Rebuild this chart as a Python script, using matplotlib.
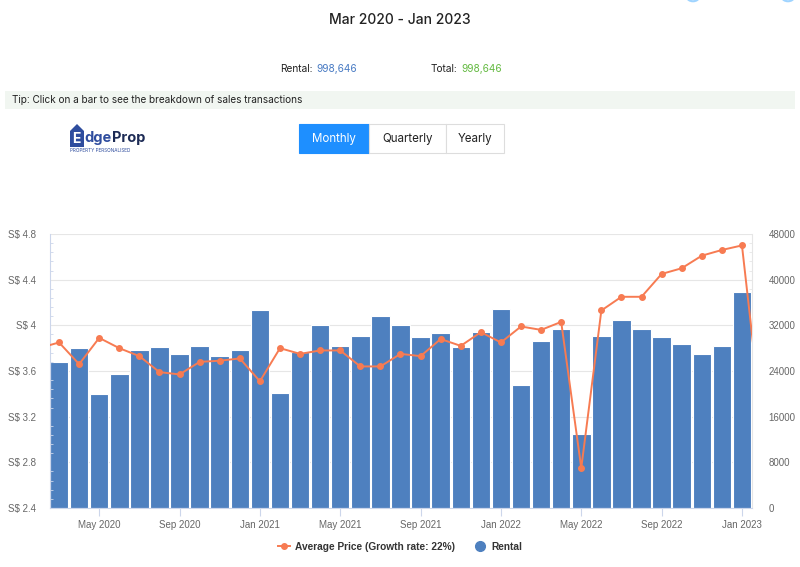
import numpy as np
import pandas as pd
import matplotlib.pyplot as plt
from matplotlib.patches import Rectangle, Polygon, Circle
from matplotlib.lines import Line2D

# monthly rental volume (right axis), Mar 2020 .. Jan 2023
rental = [25600, 28000, 20000, 23400, 27700, 28200, 26900, 28300, 26700, 27700,
          34600, 20200, 27300, 32000, 28300, 30100, 33700, 32100, 29900, 30600,
          28200, 30800, 34900, 21600, 29300, 31300, 12900, 30100, 32900, 31300,
          29900, 28700, 26900, 28400, 37800]

# average price psf (left axis), Feb 2020 .. Feb 2023 (first/last fall outside the plot)
avg_price = [3.80,
             3.85, 3.66, 3.89, 3.80, 3.73, 3.59, 3.57, 3.68, 3.69, 3.71,
             3.51, 3.80, 3.75, 3.78, 3.78, 3.64, 3.64, 3.75, 3.73, 3.88,
             3.82, 3.94, 3.85, 3.99, 3.96, 4.03, 2.75, 4.13, 4.25, 4.25,
             4.45, 4.50, 4.61, 4.66, 4.70,
             3.14]

months = pd.date_range('2020-03-01', '2023-01-01', freq='MS')
tick_labels = ['May 2020', 'Sep 2020', 'Jan 2021', 'May 2021', 'Sep 2021',
               'Jan 2022', 'May 2022', 'Sep 2022', 'Jan 2023']
left_ticks = [2.4, 2.8, 3.2, 3.6, 4.0, 4.4, 4.8]
left_labels = ['S$ 2.4', 'S$ 2.8', 'S$ 3.2', 'S$ 3.6', 'S$ 4', 'S$ 4.4', 'S$ 4.8']
right_ticks = [0, 8000, 16000, 24000, 32000, 40000, 48000]

BLUE = '#4e80bf'
ORANGE = '#f77b52'
GRID = '#e6e6e6'
AXC = '#ccd6eb'
LBL = '#666666'

W, H = 800, 567
def fx(x): return x / W
def fy(y): return 1 - y / H

plt.rcParams['font.family'] = ['Liberation Sans', 'DejaVu Sans']
fig = plt.figure(figsize=(8, 5.67), dpi=100)
hdr = ['Inter', 'DejaVu Sans']

# ---- header ----
fig.text(0.5, fy(20), 'Mar 2020 - Jan 2023', ha='center', va='center',
         fontsize=10, color='#222222', family=hdr, fontweight='medium')
fig.text(fx(280), fy(69), 'Rental:', ha='left', va='center', fontsize=7.3, color='#222222', family=hdr)
fig.text(fx(316), fy(69), '998,646', ha='left', va='center', fontsize=7.3, color='#4a7cc4', family=hdr)
fig.text(fx(431), fy(69), 'Total:', ha='left', va='center', fontsize=7.3, color='#222222', family=hdr)
fig.text(fx(461), fy(69), '998,646', ha='left', va='center', fontsize=7.3, color='#66bb44', family=hdr)

fig.patches.append(Rectangle((fx(5), fy(109)), fx(790), 18 / H, transform=fig.transFigure,
                             facecolor='#f1f6f1', edgecolor='none'))
fig.text(fx(12), fy(100), 'Tip: Click on a bar to see the breakdown of sales transactions',
         ha='left', va='center', fontsize=7.2, color='#222222', family=hdr)

# logo
house = [(70, 147), (70, 131), (77, 124), (84, 131), (84, 147)]
fig.patches.append(Polygon([(fx(a), fy(b)) for a, b in house], closed=True,
                           transform=fig.transFigure, facecolor='#2f4d9e', edgecolor='none'))
fig.text(fx(72), fy(139), 'E', ha='left', va='center', fontsize=10, fontweight='bold',
         color='white', family=hdr)
t_dge = fig.text(fx(84.5), fy(138), 'dge', ha='left', va='center', fontsize=10.5,
                 fontweight='bold', color='#2f4d9e', family=hdr)
fig.canvas.draw()
bb = t_dge.get_window_extent(fig.canvas.get_renderer()).transformed(fig.transFigure.inverted())
fig.text(bb.x1, fy(138), 'Prop', ha='left', va='center', fontsize=10.5, fontweight='bold',
         color='#1d2b55', family=hdr)
fig.text(fx(70), fy(150), 'PROPERTY PERSONALISED', ha='left', va='center', fontsize=3.4,
         color='#2f4d9e', family=hdr)

# period buttons
buttons = [('Monthly', 299, 369), ('Quarterly', 369, 446), ('Yearly', 446, 504)]
for i, (name, x0, x1) in enumerate(buttons):
    active = i == 0
    fig.patches.append(Rectangle((fx(x0), fy(153)), (x1 - x0) / W, 29 / H,
                                 transform=fig.transFigure,
                                 facecolor='#1e8fff' if active else 'white',
                                 edgecolor='#1e8fff' if active else '#dddddd', linewidth=0.8))
    fig.text(fx((x0 + x1) / 2), fy(139), name, ha='center', va='center', fontsize=8.3,
             color='white' if active else '#222222', family=hdr)

# partial icons at top edge
for cx in (693, 788):
    fig.patches.append(Circle((fx(cx), fy(-3)), 6 / W, transform=fig.transFigure,
                              facecolor='none', edgecolor='#9fd4ff', linewidth=1.5))

# ---- chart ----
ax = fig.add_axes([fx(50), fy(508), (752 - 50) / W, (508 - 234) / H])
axl = ax.twinx()  # price axis, drawn above the bars

x = np.arange(len(months))
ax.bar(x, rental, width=0.92, color=BLUE, edgecolor='white', linewidth=0.8, zorder=2)
ax.set_ylim(0, 48000)
ax.set_xlim(-0.45, len(months) - 0.5)
ax.grid(axis='y', color=GRID, linewidth=0.8, zorder=0)
ax.set_axisbelow(True)

# rentals on the right, prices on the left
ax.yaxis.tick_right()
ax.set_yticks(right_ticks)
ax.set_yticklabels([str(v) for v in right_ticks])
ax.set_yticks(np.arange(0, 48001, 1600), minor=True)
ax.tick_params(axis='y', which='major', length=0, labelcolor=LBL, labelsize=7, pad=12)
ax.tick_params(axis='y', which='minor', direction='in', length=2.5, color=GRID,
               right=True, left=False)

tick_pos = [i for i, m in enumerate(months) if m.strftime('%b %Y') in tick_labels]
ax.set_xticks(tick_pos)
ax.set_xticklabels(tick_labels)
ax.tick_params(axis='x', colors=AXC, labelcolor=LBL, labelsize=7, length=6, width=0.8, pad=3)

ax.spines['top'].set_visible(False)
ax.spines['bottom'].set_color(AXC)
ax.spines['left'].set_color(AXC)
ax.spines['right'].set_color(GRID)
ax.spines['left'].set_linewidth(0.8)
ax.spines['right'].set_linewidth(0.8)

px = np.arange(-1, len(avg_price) - 1)
axl.plot(px, avg_price, color=ORANGE, linewidth=1.4, marker='o', markersize=4, zorder=3)
axl.set_ylim(2.4, 4.8)
axl.set_xlim(ax.get_xlim())
axl.yaxis.tick_left()
axl.set_yticks(left_ticks)
axl.set_yticklabels(left_labels)
axl.set_yticks(np.arange(2.4, 4.801, 0.08), minor=True)
axl.tick_params(axis='y', which='major', length=0, labelcolor=LBL, labelsize=7, pad=10)
axl.tick_params(axis='y', which='minor', direction='in', length=2.5, color=AXC,
                left=True, right=False)
for s in axl.spines.values():
    s.set_visible(False)

# legend
handles = [Line2D([], [], color=ORANGE, marker='o', markersize=4, linewidth=1.4),
           Line2D([], [], color=BLUE, marker='o', markersize=7, linestyle='none')]
leg = fig.legend(handles, ['Average Price (Growth rate: 22%)', 'Rental'],
                 loc='center', bbox_to_anchor=(0.5, fy(547)), ncol=2, frameon=False,
                 fontsize=7.3, handlelength=1.2, handletextpad=0.5, columnspacing=1.8)
for t in leg.get_texts():
    t.set_fontweight('bold')
    t.set_color('#333333')

fig.savefig('out.png', dpi=100)
